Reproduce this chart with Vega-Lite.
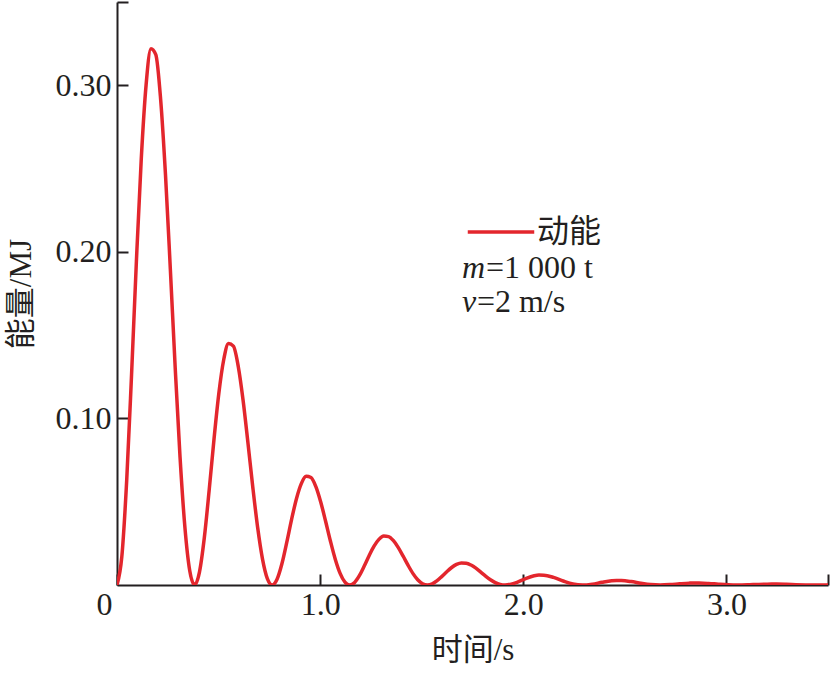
{
  "$schema": "https://vega.github.io/schema/vega-lite/v6.json",
  "width": 711,
  "height": 583,
  "autosize": {"type": "none"},
  "padding": {"left": 117, "top": 2, "right": 3, "bottom": 88},
  "config": {"view": {"stroke": null}, "font": "Liberation Serif"},
  "data": {"values": [
    {"t":0,"E":0},{"t":0.0239,"E":0.01718},{"t":0.0478,"E":0.06291},{"t":0.0716,"E":0.12613},{"t":0.0955,"E":0.19438},{"t":0.1194,"E":0.2557},{"t":0.1433,"E":0.30033},{"t":0.1671,"E":0.322},{"t":0.191,"E":0.31845},{"t":0.2149,"E":0.29143},{"t":0.2388,"E":0.24601},{"t":0.2626,"E":0.18957},{"t":0.2865,"E":0.13043},{"t":0.3104,"E":0.0766},{"t":0.3343,"E":0.03458},{"t":0.3581,"E":0.00855},
    {"t":0.382,"E":0},{"t":0.4059,"E":0.007734},{"t":0.4298,"E":0.02832},{"t":0.4536,"E":0.05678},{"t":0.4775,"E":0.08751},{"t":0.5014,"E":0.11512},{"t":0.5253,"E":0.13521},{"t":0.5491,"E":0.14496},{"t":0.573,"E":0.14337},{"t":0.5969,"E":0.1312},{"t":0.6208,"E":0.11075},{"t":0.6446,"E":0.08534},{"t":0.6685,"E":0.05872},{"t":0.6924,"E":0.03449},{"t":0.7163,"E":0.01557},{"t":0.7401,"E":0.00385},
    {"t":0.764,"E":0},{"t":0.7879,"E":0.003482},{"t":0.8118,"E":0.012751},{"t":0.8356,"E":0.025564},{"t":0.8595,"E":0.039397},{"t":0.8834,"E":0.051825},{"t":0.9073,"E":0.060871},{"t":0.9311,"E":0.065263},{"t":0.955,"E":0.064543},{"t":0.9789,"E":0.059067},{"t":1.0028,"E":0.049861},{"t":1.0266,"E":0.038422},{"t":1.0505,"E":0.026436},{"t":1.0744,"E":0.015525},{"t":1.0983,"E":0.007009},{"t":1.1221,"E":0.001733},
    {"t":1.146,"E":0},{"t":1.1699,"E":0.001568},{"t":1.1938,"E":0.005741},{"t":1.2176,"E":0.011509},{"t":1.2415,"E":0.017737},{"t":1.2654,"E":0.023333},{"t":1.2893,"E":0.027405},{"t":1.3131,"E":0.029383},{"t":1.337,"E":0.029059},{"t":1.3609,"E":0.026593},{"t":1.3848,"E":0.022448},{"t":1.4086,"E":0.017298},{"t":1.4325,"E":0.011902},{"t":1.4564,"E":0.00699},{"t":1.4803,"E":0.003155},{"t":1.5041,"E":0.00078},
    {"t":1.528,"E":0},{"t":1.5519,"E":0.000706},{"t":1.5758,"E":0.002584},{"t":1.5996,"E":0.005181},{"t":1.6235,"E":0.007985},{"t":1.6474,"E":0.010504},{"t":1.6713,"E":0.012338},{"t":1.6951,"E":0.013228},{"t":1.719,"E":0.013082},{"t":1.7429,"E":0.011972},{"t":1.7668,"E":0.010106},{"t":1.7906,"E":0.007788},{"t":1.8145,"E":0.005358},{"t":1.8384,"E":0.003147},{"t":1.8623,"E":0.001421},{"t":1.8861,"E":0.000351},
    {"t":1.91,"E":0},{"t":1.9578,"E":0.001163},{"t":2.0055,"E":0.003594},{"t":2.0533,"E":0.005553},{"t":2.0771,"E":0.005954},{"t":2.101,"E":0.005888},{"t":2.1488,"E":0.004549},{"t":2.1965,"E":0.002412},{"t":2.2443,"E":0.000639},
    {"t":2.292,"E":0},{"t":2.3398,"E":0.000524},{"t":2.3875,"E":0.001618},{"t":2.4353,"E":0.002501},{"t":2.4591,"E":0.002681},{"t":2.483,"E":0.002651},{"t":2.5308,"E":0.002048},{"t":2.5785,"E":0.001086},{"t":2.6263,"E":0.000288},
    {"t":2.674,"E":0},{"t":2.7218,"E":0.000236},{"t":2.7695,"E":0.000729},{"t":2.8173,"E":0.001126},{"t":2.8411,"E":0.001207},{"t":2.865,"E":0.001194},{"t":2.9128,"E":0.000922},{"t":2.9605,"E":0.000489},{"t":3.0083,"E":0.00013},
    {"t":3.056,"E":0},{"t":3.1038,"E":0.000106},{"t":3.1515,"E":0.000328},{"t":3.1993,"E":0.000507},{"t":3.2231,"E":0.000544},{"t":3.247,"E":0.000538},{"t":3.2948,"E":0.000415},{"t":3.3425,"E":0.00022},{"t":3.3903,"E":0.000058},
    {"t":3.438,"E":0},{"t":3.4858,"E":0.000048},{"t":3.5,"E":0.000076}
  ]},
  "layer": [
    {
      "mark": {"type": "line", "strokeWidth": 3.5, "interpolate": "monotone", "clip": true},
      "encoding": {
        "x": {
          "field": "t", "type": "quantitative",
          "scale": {"domain": [0, 3.5], "nice": false, "zero": false},
          "axis": {
            "title": "时间/s",
            "titleFont": "Liberation Serif, Noto Sans CJK SC",
            "titleFontSize": 31, "titleFontWeight": "normal", "titleColor": "#231f20",
            "titlePadding": 15,
            "values": [0, 1, 2, 3, 3.5],
            "labelExpr": "datum.value == 0 ? '0' : (datum.value == 3.5 ? '' : format(datum.value, '.1f'))",
            "labelFont": "Liberation Serif", "labelFontSize": 32, "labelColor": "#231f20",
            "labelFlush": false, "labelOverlap": false, "labelPadding": 15,
            "labelOffset": {"condition": {"test": "datum.value == 0", "value": -13}, "value": 0},
            "tickSize": -11, "tickWidth": 2, "tickColor": "#231f20",
            "domainColor": "#231f20", "domainWidth": 2, "grid": false
          }
        },
        "y": {
          "field": "E", "type": "quantitative",
          "scale": {"domain": [0, 0.35], "nice": false},
          "axis": {
            "title": "能量/MJ",
            "titleFont": "Liberation Serif, Noto Sans CJK SC",
            "titleFontSize": 31, "titleFontWeight": "normal", "titleColor": "#231f20",
            "titlePadding": 18,
            "values": [0.1, 0.2, 0.3, 0.35],
            "labelExpr": "datum.value == 0.35 ? '' : format(datum.value, '.2f')",
            "labelFont": "Liberation Serif", "labelFontSize": 32, "labelColor": "#231f20",
            "labelFlush": false, "labelOverlap": false, "labelPadding": 17,
            "tickSize": -11, "tickWidth": 2, "tickColor": "#231f20",
            "domainColor": "#231f20", "domainWidth": 2, "grid": false
          }
        },
        "color": {
          "datum": "动能",
          "type": "nominal",
          "scale": {"range": ["#e3262d"]},
          "legend": {
            "orient": "none", "legendX": 349, "legendY": 195,
            "title": null, "padding": 0,
            "symbolType": "stroke", "symbolSize": 4420, "symbolStrokeWidth": 3.5,
            "labelFont": "Liberation Serif, Noto Sans CJK SC", "labelFontSize": 32,
            "labelColor": "#231f20", "labelOffset": 1
          }
        }
      }
    },
    {
      "data": {"values": [{}]},
      "mark": {"type": "text", "align": "left", "baseline": "alphabetic", "fontSize": 32, "fontStyle": "italic", "color": "#231f20", "font": "Liberation Serif"},
      "encoding": {"x": {"datum": 1.698}, "y": {"datum": 0.1843}, "text": {"value": "m"}}
    },
    {
      "data": {"values": [{}]},
      "mark": {"type": "text", "align": "left", "baseline": "alphabetic", "fontSize": 32, "dx": 24, "color": "#231f20", "font": "Liberation Serif"},
      "encoding": {"x": {"datum": 1.698}, "y": {"datum": 0.1843}, "text": {"value": "=1 000 t"}}
    },
    {
      "data": {"values": [{}]},
      "mark": {"type": "text", "align": "left", "baseline": "alphabetic", "fontSize": 32, "fontStyle": "italic", "color": "#231f20", "font": "Liberation Serif"},
      "encoding": {"x": {"datum": 1.698}, "y": {"datum": 0.1639}, "text": {"value": "v"}}
    },
    {
      "data": {"values": [{}]},
      "mark": {"type": "text", "align": "left", "baseline": "alphabetic", "fontSize": 32, "dx": 15, "color": "#231f20", "font": "Liberation Serif"},
      "encoding": {"x": {"datum": 1.698}, "y": {"datum": 0.1639}, "text": {"value": "=2 m/s"}}
    }
  ]
}
